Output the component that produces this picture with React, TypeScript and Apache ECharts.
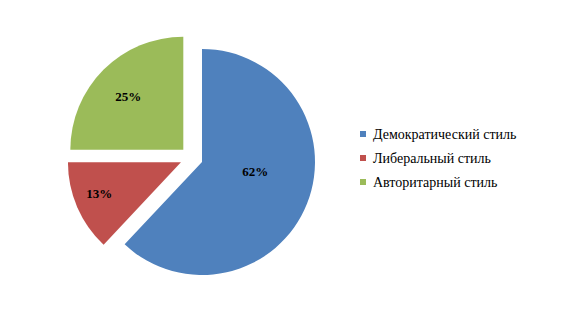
import React, { useEffect, useRef } from "react";
import * as echarts from "echarts";

const categories = ["Демократический стиль", "Либеральный стиль", "Авторитарный стиль"];
const values = [62, 13, 25];
const colors = ["#4F81BD", "#C0504D", "#9BBB59"];
// small nudges of the inside labels (dx, dy), like Excel's best-fit placement
const labelNudges: [number, number][] = [[-2, -12], [-27, 8], [-13, -11]];
const serif = "'Liberation Serif', 'Times New Roman', serif";

export default function App() {
  const ref = useRef<HTMLDivElement>(null);
  useEffect(() => {
    const chart = echarts.init(ref.current!, null, { renderer: "svg" });
    chart.setOption({
      animation: false,
      textStyle: { fontFamily: serif },
      legend: {
        orient: "vertical",
        left: 347,
        top: 114,
        itemWidth: 6,
        itemHeight: 6,
        itemGap: 10,
        icon: "rect",
        selectedMode: false,
        data: categories,
        textStyle: {
          fontFamily: serif,
          fontSize: 14,
          lineHeight: 14,
          color: "#000",
          padding: [0, 0, 0, 2],
        },
      },
      series: [
        {
          type: "pie",
          center: [183.4, 149.8],
          radius: 113,
          startAngle: 90,
          clockwise: true,
          selectedMode: "multiple",
          selectedOffset: 11.4,
          avoidLabelOverlap: false,
          emphasis: { disabled: true },
          label: {
            show: true,
            position: "inside",
            formatter: "{c}%",
            fontFamily: serif,
            fontWeight: "bold",
            fontSize: 13,
            color: "#000",
          },
          labelLayout: (params: any) => ({
            dx: labelNudges[params.dataIndex][0],
            dy: labelNudges[params.dataIndex][1],
          }),
          labelLine: { show: false },
          data: categories.map((name, i) => ({
            name,
            value: values[i],
            selected: true,
            itemStyle: { color: colors[i] },
          })),
        },
      ],
    });
    return () => chart.dispose();
  }, []);
  return <div ref={ref} style={{ width: 548, height: 302 }} />;
}
